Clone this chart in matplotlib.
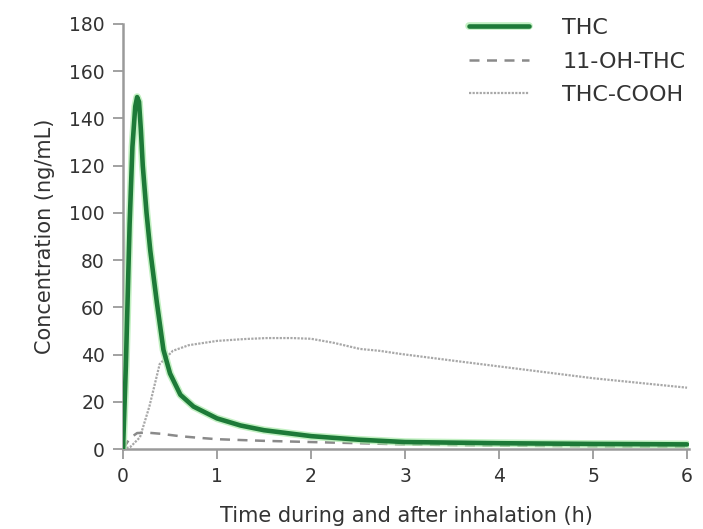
import matplotlib
matplotlib.use("Agg")
import matplotlib.pyplot as plt
import matplotlib.patheffects as pe

# Data
thc_t = [0, 0.03, 0.07, 0.10, 0.13, 0.15, 0.17, 0.19, 0.21, 0.25, 0.29, 0.36, 0.43, 0.5, 0.61, 0.75, 1.0, 1.25, 1.5, 2.0, 2.5, 3.0, 4.0, 5.0, 6.0]
thc_v = [0, 35, 95, 128, 145, 149, 147, 135, 120, 100, 84, 62, 42, 32, 23, 18, 13, 10, 8, 5.5, 4, 3, 2.5, 2.2, 2]

oh_t = [0, 0.07, 0.15, 0.25, 0.4, 0.6, 0.8, 1.0, 1.5, 2.0, 3.0, 4.0, 5.0, 6.0]
oh_v = [0, 4.5, 6.8, 7.0, 6.5, 5.5, 4.8, 4.2, 3.5, 3.0, 2.0, 1.5, 1.2, 1.0]

cooh_t = [0, 0.08, 0.18, 0.28, 0.39, 0.53, 0.7, 1.0, 1.3, 1.53, 1.8, 2.0, 2.24, 2.52, 2.73, 2.95, 3.5, 4.0, 4.5, 5.0, 5.5, 6.0]
cooh_v = [0, 1, 5, 18, 36, 41.6, 44, 45.8, 46.6, 47, 47, 46.7, 45, 42.4, 41.6, 40.3, 37.5, 35, 32.5, 30, 28, 26]

labels = ["THC", "11-OH-THC", "THC-COOH"]
x_ticks = [0, 1, 2, 3, 4, 5, 6]
y_ticks = [0, 20, 40, 60, 80, 100, 120, 140, 160, 180]

plt.rcParams['font.family'] = ['DejaVu Sans']
text_col = '#333333'
spine_col = '#9a9a9a'

fig = plt.figure(figsize=(7.03, 5.29), dpi=100)
ax = fig.add_axes([0.175, 0.151, 0.805, 0.804])

ax.plot(thc_t, thc_v, color='#1d7a38', lw=3.3, solid_capstyle='round', solid_joinstyle='round',
        label=labels[0], zorder=4,
        path_effects=[pe.Stroke(linewidth=5.5, foreground='#a8eaa8', alpha=0.7), pe.Normal()])
ax.plot(oh_t, oh_v, color='#8a8a8a', lw=1.8, ls=(0, (4, 3)), label=labels[1], zorder=3)
ax.plot(cooh_t, cooh_v, color='#a8a8a8', lw=1.6, ls=(0, (1, 0.6)), label=labels[2], zorder=2)

ax.set_xlim(0, 6.02)
ax.set_ylim(0, 180)
ax.set_xticks(x_ticks)
ax.set_yticks(y_ticks)
for s in ['top', 'right']:
    ax.spines[s].set_visible(False)
for s in ['left', 'bottom']:
    ax.spines[s].set_color(spine_col)
    ax.spines[s].set_linewidth(1.8)
ax.tick_params(axis='both', colors=spine_col, length=7, width=1.3, labelsize=13.5,
               labelcolor=text_col, pad=6)

ax.set_xlabel("Time during and after inhalation (h)", fontsize=15, color=text_col, labelpad=14)
ax.set_ylabel("Concentration (ng/mL)", fontsize=15, color=text_col, labelpad=10)

leg = fig.legend(loc='upper right', bbox_to_anchor=(0.997, 0.995), frameon=False, fontsize=16,
                 handlelength=2.7, handletextpad=1.5, labelspacing=0.6, borderpad=0.2)
for t in leg.get_texts():
    t.set_color(text_col)

fig.savefig("out.png", dpi=100)
